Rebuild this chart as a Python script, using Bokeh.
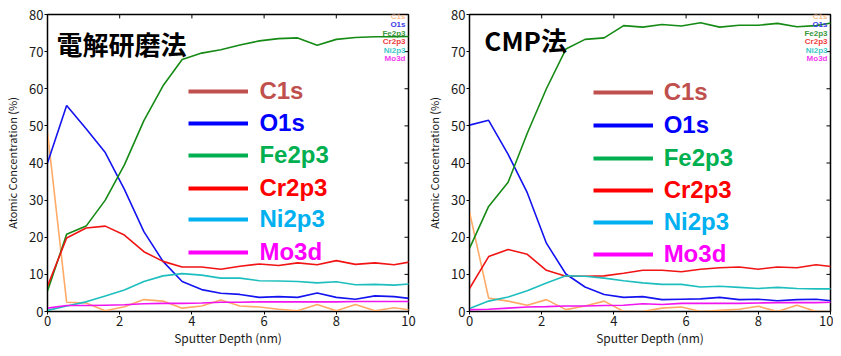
from bokeh.plotting import figure
from bokeh.models import Range1d, Legend, LegendItem, Label, FixedTicker
from bokeh.layouts import row
from bokeh.embed import file_html
from bokeh.resources import INLINE

# ---------------- data ----------------
depth = [0.0, 0.53, 1.07, 1.6, 2.13, 2.67, 3.2, 3.73, 4.27, 4.8,
         5.33, 5.87, 6.4, 6.93, 7.47, 8.0, 8.53, 9.07, 9.6, 10.13]

series_names = ["C1s", "O1s", "Fe2p3", "Cr2p3", "Ni2p3", "Mo3d"]

# 電解研磨法 (electropolishing)
ep_c1s = [48.3, 2.5, 2.3, 0.2, 1.3, 3.2, 2.8, 0.9, 1.5, 3.1,
          1.5, 1.2, 0.6, 0.2, 1.9, 0.2, 1.9, 0.2, 1.0, 0.3]
ep_o1s = [40.0, 55.5, 49.2, 42.8, 32.9, 21.5, 13.5, 8.1, 5.9, 4.9,
          4.6, 3.8, 4.0, 3.8, 5.0, 3.8, 3.3, 4.2, 4.0, 3.4]
ep_fe = [5.5, 20.8, 23.0, 30.0, 39.5, 51.4, 60.8, 67.9, 69.6, 70.5,
         71.8, 72.9, 73.5, 73.7, 71.7, 73.3, 73.8, 74.0, 74.0, 74.1]
ep_cr = [6.8, 19.8, 22.5, 23.0, 20.6, 16.1, 13.5, 12.0, 12.0, 11.4,
         12.2, 12.8, 12.4, 13.1, 12.6, 13.7, 12.7, 13.1, 12.6, 13.5]
ep_ni = [0.3, 1.5, 2.6, 4.2, 5.8, 8.1, 9.6, 10.2, 9.8, 9.0,
         9.0, 8.3, 8.2, 8.1, 7.7, 8.0, 7.2, 7.3, 7.1, 7.5]
ep_mo = [0.9, 1.6, 1.6, 1.7, 1.8, 2.1, 2.2, 2.2, 2.3, 2.5,
         2.5, 2.6, 2.6, 2.6, 2.6, 2.6, 2.7, 2.7, 2.7, 2.7]

# CMP法
cmp_c1s = [26.8, 3.6, 2.8, 1.7, 3.2, 0.5, 1.5, 2.8, 0.0, 0.0,
           0.9, 1.2, 0.0, 0.3, 0.6, 1.4, 0.0, 1.7, 0.0, 0.0]
cmp_o1s = [50.2, 51.5, 42.3, 32.0, 18.4, 10.1, 6.6, 4.6, 3.8, 4.0,
           3.2, 3.3, 3.4, 3.8, 3.2, 3.3, 2.9, 3.2, 3.3, 2.8]
cmp_fe = [17.0, 28.3, 34.8, 48.0, 60.0, 70.7, 73.3, 73.7, 77.0, 76.6,
          77.3, 76.9, 77.8, 76.6, 77.1, 77.1, 77.6, 76.7, 77.0, 77.9]
cmp_cr = [6.2, 14.8, 16.7, 15.4, 11.1, 9.5, 9.5, 9.6, 10.3, 11.1,
          11.1, 10.7, 11.4, 11.8, 12.0, 11.4, 12.0, 11.8, 12.6, 12.0]
cmp_ni = [0.8, 2.8, 3.9, 5.6, 7.7, 9.6, 9.5, 9.0, 8.3, 7.7,
          7.3, 7.3, 6.6, 6.8, 6.5, 6.2, 6.5, 6.2, 6.1, 6.1]
cmp_mo = [0.5, 0.6, 0.9, 1.2, 1.3, 1.5, 1.5, 1.6, 1.7, 2.1,
          1.9, 2.2, 2.2, 2.2, 2.2, 2.3, 2.4, 2.4, 2.4, 2.5]

x_ticks = [0, 2, 4, 6, 8, 10]
y_ticks = [0, 10, 20, 30, 40, 50, 60, 70, 80]

# ---------------- styles ----------------
line_colors = ["#FFAA66", "#1414F0", "#158A15", "#F01414", "#1EBEBE", "#F014F0"]
small_colors = ["#FFBE8C", "#3C3CE6", "#3C963C", "#F03C3C", "#3CC8C8", "#F03CF0"]
big_colors = ["#C0504D", "#0000FF", "#00B050", "#FF0000", "#00B0F0", "#FF00FF"]

JP = "Noto Sans CJK JP"
LAT = "Liberation Sans"

FIG_H = 348
B_TOP, B_BOT = 14, 30
B_LEFT = 47
FRAME_W = 361
FRAME_H = FIG_H - B_TOP - B_BOT
SY = FRAME_H / 310.0     # reference frame was 310 px tall
SX = FRAME_W / 365.0     # reference frame was 365 px wide
TICK = 4
LEG_FIX = 7.5            # correction for the legend box's vertical anchoring


def fy(dy):
    """distance below the frame top (reference px) -> screen y above frame bottom"""
    return FRAME_H - dy * SY


def make_panel(title, data, width, br, title_dx, title_dy, big_dx, big_rows):
    p = figure(width=width, height=FIG_H, output_backend="svg", toolbar_location=None,
               x_range=Range1d(0, 10), y_range=Range1d(0, 80),
               min_border_left=B_LEFT, min_border_right=br,
               min_border_top=B_TOP, min_border_bottom=B_BOT)
    p.grid.visible = False
    p.outline_line_color = "black"
    p.outline_line_width = 1.5
    p.background_fill_color = "white"
    p.border_fill_color = "white"

    for ax, ticks in ((p.xaxis[0], x_ticks), (p.yaxis[0], y_ticks)):
        ax.ticker = FixedTicker(ticks=ticks)
        ax.major_tick_in = 0
        ax.major_tick_out = 3
        ax.minor_tick_line_color = None
        ax.axis_line_color = "black"
        ax.major_tick_line_color = "black"
        ax.major_label_text_font = JP
        ax.major_label_text_font_size = "13px"
        ax.major_label_text_color = "#1a1a1a"
        ax.major_label_standoff = 1
        ax.axis_label_text_font = JP
        ax.axis_label_text_font_style = "normal"
        ax.axis_label_text_color = "#1a1a1a"
    p.xaxis[0].axis_label = "Sputter Depth (nm)"
    p.xaxis[0].axis_label_text_font_size = "12px"
    p.xaxis[0].axis_label_standoff = 0
    p.yaxis[0].axis_label = "Atomic Concentration (%)"
    p.yaxis[0].axis_label_text_font_size = "11px"
    p.yaxis[0].axis_label_standoff = 6

    # mirrored inward tick marks on the right and top edges
    dx = TICK * 10.0 / FRAME_W
    dy = TICK * 80.0 / FRAME_H
    p.segment(x0=[10] * len(y_ticks), x1=[10 - dx] * len(y_ticks), y0=y_ticks, y1=y_ticks,
              line_color="black", line_width=1)
    p.segment(x0=x_ticks, x1=x_ticks, y0=[80] * len(x_ticks), y1=[80 - dy] * len(x_ticks),
              line_color="black", line_width=1)

    # data lines
    for name, vals, col in zip(series_names, data, line_colors):
        p.line(depth, vals, line_color=col, line_width=1.6)

    # small coloured legend text at the top right
    for i, (name, col) in enumerate(zip(series_names, small_colors)):
        p.add_layout(Label(x=FRAME_W - 3, y=fy(8.7 + i * 8.7), x_units="screen", y_units="screen",
                           text=name, text_align="right", text_baseline="middle",
                           text_font=LAT, text_font_size="8px", text_font_style="bold",
                           text_color=col))

    # big decorative legend
    H = 40
    nan = float("nan")
    for name, col, dy_row in zip(series_names, big_colors, big_rows):
        r = p.line(x=[nan, nan], y=[nan, nan], line_color=col, line_width=4)
        leg = Legend(items=[LegendItem(label=name, renderers=[r])],
                     location=(big_dx * SX, fy(dy_row) - H / 2 - LEG_FIX),
                     padding=0, margin=0, spacing=0, border_line_color=None,
                     background_fill_alpha=0, glyph_width=60, glyph_height=H,
                     label_height=H, label_standoff=11,
                     label_text_font=LAT, label_text_font_size="24px",
                     label_text_font_style="bold", label_text_color=col)
        p.add_layout(leg)

    # panel title
    p.add_layout(Label(x=title_dx * SX, y=fy(title_dy), x_units="screen", y_units="screen",
                       text=title, text_baseline="middle", text_font=JP,
                       text_font_size="26px", text_font_style="bold", text_color="black"))
    return p


p1 = make_panel("電解研磨法", [ep_c1s, ep_o1s, ep_fe, ep_cr, ep_ni, ep_mo],
                width=B_LEFT + FRAME_W + 14, br=14, title_dx=9, title_dy=37,
                big_dx=143, big_rows=[78, 111, 143, 177, 209, 242])
p2 = make_panel("CMP法", [cmp_c1s, cmp_o1s, cmp_fe, cmp_cr, cmp_ni, cmp_mo],
                width=B_LEFT + FRAME_W + 3, br=3, title_dx=15, title_dy=33,
                big_dx=125, big_rows=[79, 113, 146, 179, 212, 244])

layout = row(p1, p2)
open("out.html", "w").write(file_html(layout, INLINE))
